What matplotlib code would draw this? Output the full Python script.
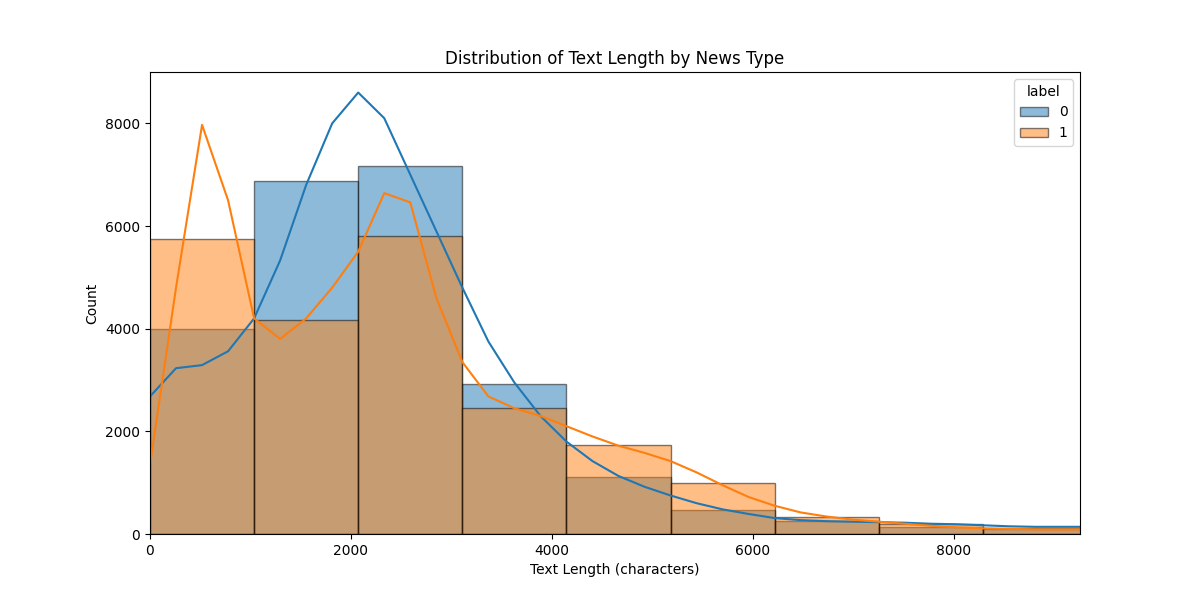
import matplotlib.pyplot as plt
from matplotlib.patches import Patch
import numpy as np

bin_edges = np.array([0, 1036, 2072, 3108, 4144, 5180, 6216, 7252, 8288, 9324])
counts_0 = [3990, 6880, 7170, 2930, 1120, 470, 250, 130, 90]
counts_1 = [5750, 4165, 5810, 2460, 1740, 1000, 330, 200, 120]

kde_x = np.arange(0, 9325, 259)
kde_0 = [2680, 3230, 3290, 3560, 4200, 5330, 6800, 8000, 8600, 8100, 7000, 5900, 4800,
         3750, 2950, 2300, 1800, 1420, 1130, 920, 750, 600, 480, 390, 310, 270, 250,
         240, 230, 220, 200, 190, 170, 150, 140, 140, 140]
kde_1 = [1350, 4800, 7970, 6500, 4200, 3800, 4200, 4800, 5500, 6640, 6460, 4600, 3350,
         2680, 2450, 2300, 2100, 1900, 1720, 1580, 1420, 1200, 950, 720, 550, 420, 340,
         280, 240, 200, 160, 130, 110, 100, 90, 90, 90]

blue = '#1f77b4'
orange = '#ff7f0e'

fig, ax = plt.subplots(figsize=(12, 6), dpi=100)
widths = np.diff(bin_edges)
ax.bar(bin_edges[:-1], counts_0, width=widths, align='edge', color=blue, alpha=0.5, edgecolor='black', linewidth=1)
ax.bar(bin_edges[:-1], counts_1, width=widths, align='edge', color=orange, alpha=0.5, edgecolor='black', linewidth=1)
ax.plot(kde_x, kde_0[:len(kde_x)], color=blue, linewidth=1.5)
ax.plot(kde_x, kde_1[:len(kde_x)], color=orange, linewidth=1.5)

ax.set_xlim(0, 9254)
ax.set_ylim(0, 9000)
ax.set_xticks([0, 2000, 4000, 6000, 8000])
ax.set_yticks([0, 2000, 4000, 6000, 8000])
ax.set_xlabel('Text Length (characters)')
ax.set_ylabel('Count')
ax.set_title('Distribution of Text Length by News Type')
handles = [Patch(facecolor=blue, alpha=0.5, edgecolor='black'),
           Patch(facecolor=orange, alpha=0.5, edgecolor='black')]
ax.legend(handles, ['0', '1'], title='label', loc='upper right')

plt.savefig('out.png')
